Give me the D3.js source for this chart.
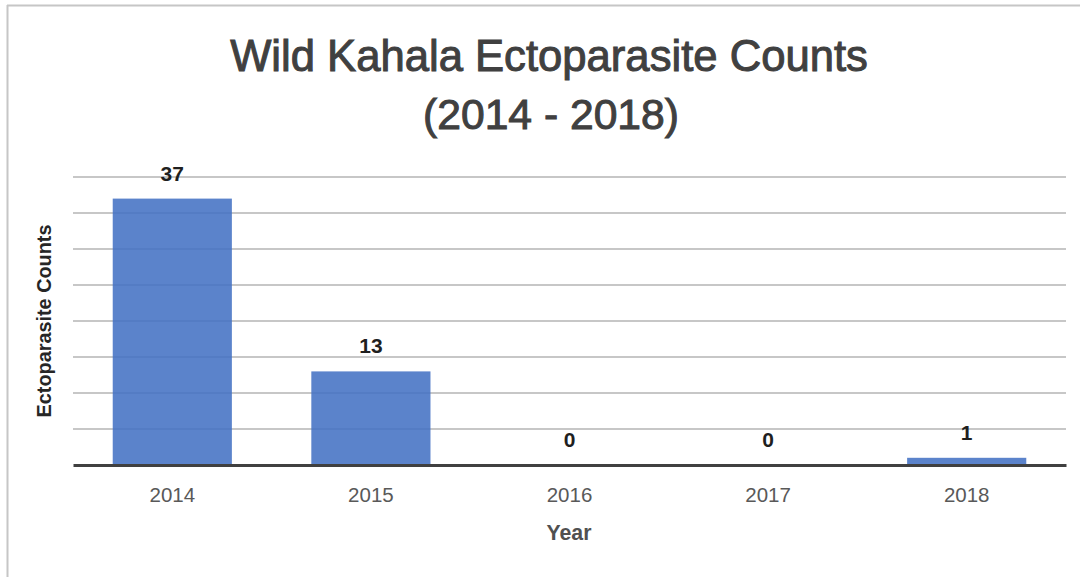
<!DOCTYPE html>
<html><head><meta charset="utf-8">
<script src="https://cdn.jsdelivr.net/npm/d3@7"></script>
<style>html,body{margin:0;padding:0;background:#fff;}svg{display:block;}</style>
</head><body>
<svg id="chart" width="1080" height="577"></svg>
<script>
const years = ["2014", "2015", "2016", "2017", "2018"];
const counts = [37, 13, 0, 0, 1];
const gridTicks = [5, 10, 15, 20, 25, 30, 35, 40];
const titleLines = ["Wild Kahala Ectoparasite Counts", "(2014 - 2018)"];
const xTitle = "Year";
const yTitle = "Ectoparasite Counts";

(function () {
const svg = d3.select("#chart");
const W = 1080, H = 577;
const plotL = 73, plotR = 1066, plotT = 177, plotB = 465;
const font = "'Liberation Sans', Arial, sans-serif";

// border
svg.append("line").attr("x1", 7.5).attr("x2", 7.5).attr("y1", 5).attr("y2", H).attr("stroke", "#c6c6c6").attr("stroke-width", 2);
svg.append("line").attr("x1", 7).attr("x2", W).attr("y1", 5.5).attr("y2", 5.5).attr("stroke", "#c6c6c6").attr("stroke-width", 2);

const x = d3.scaleBand().domain(years).range([plotL, plotR]).paddingInner(0.4).paddingOuter(0.2);
const y = d3.scaleLinear().domain([0, 40]).range([plotB, plotT]);

function fit(sel, target) {
  const n = sel.node();
  const fs = parseFloat(sel.attr("font-size"));
  const w = n.getComputedTextLength();
  sel.attr("font-size", (fs * target / w).toFixed(2));
}

// gridlines
svg.append("g").selectAll("line").data(gridTicks).join("line")
  .attr("x1", plotL).attr("x2", plotR)
  .attr("y1", d => y(d)).attr("y2", d => y(d))
  .attr("stroke", "#b4b4b4").attr("stroke-width", 1.3);

// bars
svg.append("g").selectAll("rect").data(counts).join("rect")
  .attr("x", (d, i) => x(years[i]))
  .attr("width", x.bandwidth())
  .attr("y", d => y(d))
  .attr("height", d => y(0) - y(d))
  .attr("fill", "#4472c4").attr("fill-opacity", 0.88);

// baseline axis
const xAxis = d3.axisBottom(x).tickSize(0).tickPadding(22.5);
const gx = svg.append("g").attr("transform", `translate(0,${plotB})`).call(xAxis);
gx.select(".domain").attr("stroke", "#404040").attr("stroke-width", 3);
gx.selectAll(".tick text").attr("font-family", font).attr("font-size", 20.5).attr("fill", "#595959");

// data labels
svg.append("g").selectAll("text").data(counts).join("text")
  .attr("x", (d, i) => x(years[i]) + x.bandwidth() / 2)
  .attr("y", d => y(d) - 18)
  .attr("text-anchor", "middle")
  .attr("font-family", font).attr("font-weight", "bold").attr("font-size", 21)
  .attr("fill", "#1f1f1f")
  .text(d => d);

// title
const t1 = svg.append("text").attr("x", 549).attr("y", 71).attr("text-anchor", "middle")
  .attr("font-family", font).attr("font-size", 34).attr("fill", "#404040")
  .attr("stroke", "#404040").attr("stroke-width", 1).text(titleLines[0]);
fit(t1, 638);
const t2 = svg.append("text").attr("x", 551).attr("y", 129).attr("text-anchor", "middle")
  .attr("font-family", font).attr("font-size", 34).attr("fill", "#404040")
  .attr("stroke", "#404040").attr("stroke-width", 1).text(titleLines[1]);
fit(t2, 256);

// axis titles
const xt = svg.append("text").attr("x", 569).attr("y", 540).attr("text-anchor", "middle")
  .attr("font-family", font).attr("font-weight", "bold").attr("font-size", 19).attr("fill", "#505050").text(xTitle);
fit(xt, 45);
const yt = svg.append("text").attr("transform", "translate(51,321) rotate(-90)").attr("text-anchor", "middle")
  .attr("font-family", "'Liberation Sans Narrow', 'Liberation Sans', sans-serif").attr("font-weight", "bold").attr("font-size", 16).attr("fill", "#262626").text(yTitle);
fit(yt, 193);
})();
</script>
</body></html>
